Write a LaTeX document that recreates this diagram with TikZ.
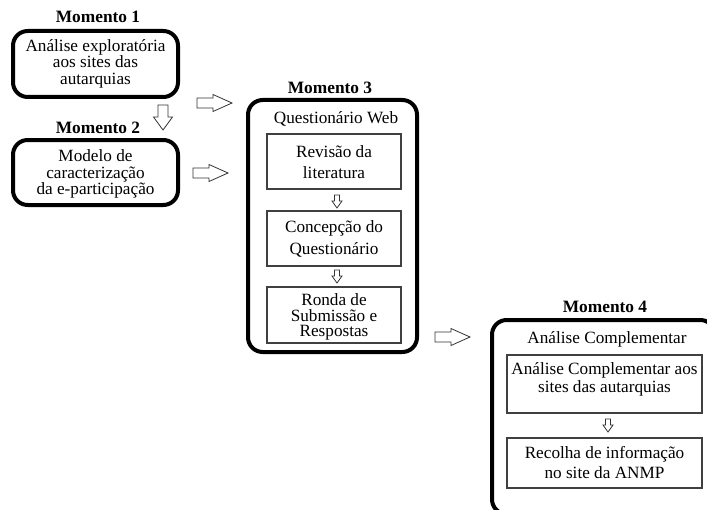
\documentclass[tikz,border=0pt]{standalone}
\usepackage{fontspec}
\setmainfont{Liberation Serif}
\begin{document}
\begin{tikzpicture}[x=0.75pt,y=-0.75pt,
  title/.style={font=\fontsize{13}{15}\selectfont\bfseries, inner sep=0pt},
  outerbox/.style={draw, line width=3pt, rounded corners=11pt, inner sep=0pt, align=center},
  innerbox/.style={draw=black!75, line width=0.8pt, inner sep=0pt},
  txt/.style={font=\fontsize{12.9}{#1}\selectfont, align=center, inner sep=0pt},
  txt/.default=12.5,
  rarrow/.pic={\draw[line width=0.6pt,black!80] (0,-5) -- (16,-5) -- (16,-8.5) -- (35,0) -- (16,8.5) -- (16,5) -- (0,5) -- cycle;},
  darrow/.pic={\draw[line width=0.6pt,black!80] (-5,0) -- (-5,12) -- (-9.5,12) -- (0,25) -- (9.5,12) -- (5,12) -- (5,0) -- cycle;},
  sdarrow/.pic={\draw[line width=0.6pt,black!80] (-2.5,0) -- (-2.5,6) -- (-5,6) -- (0,13) -- (5,6) -- (2.5,6) -- (2.5,0) -- cycle;}
]
\useasboundingbox (0,0) rectangle (707,510);
\clip (0,0) rectangle (707,510);

% Momento 1
\node[title] (t1) at (98,17) {Momento 1};
\node[outerbox, minimum width=165*0.75pt, minimum height=66*0.75pt] (b1) at (95.5,64) {};
\node[txt=12.4] (b1t) at (95.5,63.5) {Análise exploratória\\aos sites das\\autarquias};

% Momento 2
\node[title] (t2) at (98,128) {Momento 2};
\node[outerbox, minimum width=165*0.75pt, minimum height=65*0.75pt] (b2) at (95.5,172.5) {};
\node[txt=12.4] (b2t) at (95.5,174) {Modelo de\\caracterização\\da e-participação};

\pic at (163,105) {darrow};
\pic at (197,103) {rarrow};
\pic at (193,173) {rarrow};

% Momento 3
\node[title] (t3) at (330,88) {Momento 3};
\node[outerbox, minimum width=169*0.75pt, minimum height=252*0.75pt] (b3) at (332.5,226) {};
\node[txt] (q) at (336,119) {Questionário Web};
\node[innerbox, minimum width=134*0.75pt, minimum height=55*0.75pt] (r1) at (334,161.5) {};
\node[txt=15.8] at (334,162.5) {Revisão da\\literatura};
\node[innerbox, minimum width=134*0.75pt, minimum height=55*0.75pt] (r2) at (334,238.5) {};
\node[txt=16.5] at (334,239) {Concepção do\\Questionário};
\node[innerbox, minimum width=134*0.75pt, minimum height=56*0.75pt] (r3) at (334,315) {};
\node[txt=11.8] at (334,317) {Ronda de\\Submissão e\\Respostas};
\pic at (337,195) {sdarrow};
\pic at (337,270) {sdarrow};

\pic at (435,337) {rarrow};

% Momento 4
\node[title] (t4) at (605,307) {Momento 4};
\draw[line width=3pt, rounded corners=11pt] (492,320) rectangle (715,514);
\node[txt] (a) at (607,339) {Análise Complementar};
\node[innerbox, minimum width=195*0.75pt, minimum height=58*0.75pt] (s1) at (604.5,384) {};
\node[txt=13.5] at (604.5,379.5) {Análise Complementar aos\\sites das autarquias};
\node[innerbox, minimum width=195*0.75pt, minimum height=50*0.75pt] (s2) at (604.5,463) {};
\node[txt=15] at (604.5,463) {Recolha de informação\\no site da ANMP};
\pic at (608,419) {sdarrow};
\end{tikzpicture}
\end{document}
